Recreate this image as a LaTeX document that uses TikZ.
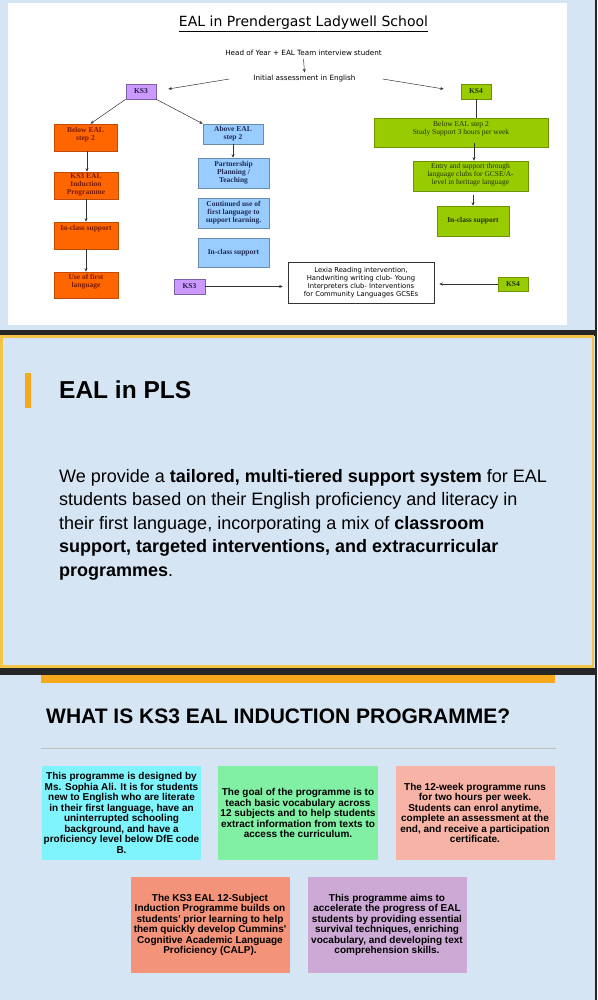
\documentclass[tikz,border=0pt]{standalone}
\usepackage{fontspec}
\usepackage{graphicx}
\setmainfont{Liberation Serif}
\newfontfamily\comic{DejaVu Sans}
\newfontfamily\arial{Liberation Sans}
\usetikzlibrary{arrows.meta}
\definecolor{bgblue}{HTML}{D6E5F4}
\definecolor{orF}{HTML}{FF6600}
\definecolor{orB}{HTML}{C04A00}
\definecolor{orT}{HTML}{7A1A00}
\definecolor{blF}{HTML}{99CCFF}
\definecolor{blB}{HTML}{6A8AB0}
\definecolor{blT}{HTML}{1F2A55}
\definecolor{grF}{HTML}{99CC00}
\definecolor{grB}{HTML}{6F9200}
\definecolor{grT}{HTML}{223300}
\definecolor{puF}{HTML}{CC99FF}
\definecolor{puB}{HTML}{7F5FA8}
\definecolor{puT}{HTML}{2A1A4A}
\definecolor{yelB}{HTML}{F3C547}
\definecolor{orbar}{HTML}{F5A81C}
\definecolor{darkband}{HTML}{262626}
\definecolor{cyanF}{HTML}{80F4FC}
\definecolor{mintF}{HTML}{82F0A4}
\definecolor{salF}{HTML}{F6B3A6}
\definecolor{coralF}{HTML}{F2937A}
\definecolor{lavF}{HTML}{CDAAD6}
\definecolor{lineG}{HTML}{333333}
\tikzset{
  flow/.style={line width=0.6pt, inner sep=0pt},
  orbox/.style={flow, draw=orB, fill=orF, minimum width=64pt, minimum height=27pt},
  blbox/.style={flow, draw=blB, fill=blF, minimum width=71pt, minimum height=30pt, text=blT, font=\fontsize{7.5}{8}\selectfont\bfseries, align=center},
  grbox/.style={flow, draw=grB, fill=grF, text=grT, font=\fontsize{7.5}{8}\selectfont, align=center},
  pubox/.style={flow, draw=puB, fill=puF, text=puT, minimum width=30pt, minimum height=15pt, font=\fontsize{7.5}{8}\selectfont\bfseries},
  ortxt/.style={inner sep=0pt, text=orT, font=\fontsize{7.5}{8}\selectfont\bfseries, align=center, anchor=north},
  comictxt/.style={inner sep=0pt, font=\comic\fontsize{7.2}{8}\selectfont, align=center},
  arr/.style={draw=lineG, line width=0.5pt, -{Stealth[length=3.5pt,width=3pt]}},
  plain/.style={draw=lineG, line width=0.5pt},
  infobox/.style={inner sep=2pt, minimum width=159pt, minimum height=94pt, align=center,
     font=\arial\bfseries\fontsize{10}{10.5}\selectfont}
}
\begin{document}
\begin{tikzpicture}[x=1pt,y=-1pt]
\useasboundingbox (0,0) rectangle (597,1000);
% backgrounds
\fill[bgblue] (0,0) rectangle (597,1000);
\fill[white] (8,3) rectangle (567,325);
\fill[darkband] (0,329.5) rectangle (597,335.5);
\draw[yelB, line width=2.5pt, fill=bgblue] (1.25,336.5) rectangle (593,666.5);
\fill[darkband] (0,668) rectangle (597,675);
\fill[orbar] (41,675) rectangle (555,683);
\fill[darkband] (594.5,0) rectangle (597,1000);

% ---------- flowchart ----------
\node[inner sep=0pt, font=\comic\fontsize{14}{16}\selectfont] (title) at (303.5,24) {\underline{EAL in Prendergast Ladywell School}};
\node[comictxt] (head) at (303.5,53) {Head of Year + EAL Team interview student};
\node[comictxt] (init) at (304.5,79) {Initial assessment in English};

\node[pubox] (ks3a) at (141,91.5) {KS3};
\node[grbox, minimum width=30pt, minimum height=15pt, font=\fontsize{7.5}{8}\selectfont\bfseries] (ks4a) at (476,91.5) {KS4};

\node[orbox, minimum width=63pt] (belowL) at (85.5,137.5) {};
\node[ortxt] (belowLt) at ([yshift=-3pt]belowL.north) {Below EAL\\step 2};
\node[orbox] (ks3ind) at (86,185.5) {};
\node[ortxt] (ks3indt) at ([yshift=-1.5pt]ks3ind.north) {KS3 EAL\\Induction\\Programme};
\node[orbox] (inclassL) at (86,235.5) {};
\node[ortxt] (inclassLt) at ([yshift=-3pt]inclassL.north) {In-class support};
\node[orbox, minimum height=26pt] (usefirst) at (86,285) {};
\node[ortxt] (usefirstt) at ([yshift=-2pt]usefirst.north) {Use of first\\language};

\node[blbox, minimum width=60pt, minimum height=20pt] (aboveR) at (233,134) {Above EAL\\step 2};
\node[blbox] (partner) at (233.5,173) {Partnership\\Planning /\\Teaching};
\node[blbox] (contuse) at (233.5,213) {Continued use of\\first language to\\support learning.};
\node[blbox, minimum height=29pt] (inclassB) at (233.5,252.5) {In-class support};

\node[grbox, minimum width=174pt, minimum height=29pt] (belowK4) at (461,132.5) {};
\node[inner sep=0pt, text=grT, font=\fontsize{7.5}{8}\selectfont, align=center, anchor=north] (belowK4t) at ([yshift=-3pt]belowK4.north) {Below EAL step 2\\Study Support 3 hours per week};
\node[grbox, minimum width=115pt, minimum height=30pt] (entry) at (470.5,176) {};
\node[inner sep=0pt, text=grT, font=\fontsize{7.5}{8}\selectfont, align=center, anchor=north] (entryt) at ([yshift=-2pt]entry.north) {Entry and support through\\language clubs for GCSE/A-\\level in heritage language};
\node[grbox, minimum width=72pt, minimum height=30pt, font=\fontsize{7.5}{8}\selectfont\bfseries] (inclassG) at (473,221) {In-class support};

\node[pubox, minimum width=31pt] (ks3b) at (189.5,286.5) {KS3};
\node[draw=lineG, line width=0.6pt, fill=white, minimum width=146pt, minimum height=41pt, inner sep=0pt, font=\comic\fontsize{6.8}{8}\selectfont, align=center] (lexia) at (361,282.5) {Lexia Reading intervention,\\Handwriting writing club- Young\\Interpreters club- Interventions\\for Community Languages GCSEs};
\node[grbox, minimum width=30pt, minimum height=14pt, font=\fontsize{7.5}{8}\selectfont\bfseries] (ks4b) at (513,284) {KS4};

% connectors
\draw[arr] ([yshift=-3pt]head.south) -- ([yshift=3pt]init.north);
\draw[arr] ([xshift=-24pt]init.west) -- ([xshift=12pt,yshift=2.5pt]ks3a.east);
\draw[arr] ([xshift=27pt]init.east) -- ([xshift=-17pt,yshift=2.5pt]ks4a.west);
\draw[arr] (ks3a.south west) -- ([xshift=5pt]belowL.north);
\draw[arr] (ks3a.south east) -- (aboveR.north west);
\draw[arr] ([xshift=1.5pt]belowL.south) -- ([xshift=1pt]ks3ind.north);
\draw[arr] (ks3ind.south) -- (inclassL.north);
\draw[arr] (inclassL.south) -- (usefirst.north);
\draw[arr] (aboveR.south) -- (partner.north -| aboveR.south);
\draw[plain] (ks4a.south) -- (belowK4.north -| ks4a.south);
\draw[arr] ([xshift=13pt,yshift=4pt]belowK4.south) -- ([xshift=3.5pt]entry.north);
\draw[arr] ([xshift=2.5pt,yshift=-4pt]entry.south) -- (inclassG.north);
\draw[arr, shorten >=5pt] (ks3b.east) -- (lexia.west |- ks3b.east);
\draw[arr, shorten >=5pt] (ks4b.west) -- (lexia.east |- ks4b.west);

% ---------- panel 2 ----------
\fill[orbar] (24.8,373) rectangle (30.5,408);
\node[anchor=base west, inner sep=0pt, font=\arial\bfseries\fontsize{24.5}{28}\selectfont] (pls) at (59,398) {EAL in PLS};
\node[anchor=north west, inner sep=0pt, align=left, font=\arial\fontsize{18}{23.5}\selectfont] (para) at (59,469) {We provide a \textbf{tailored, multi-tiered support system} for EAL\\students based on their English proficiency and literacy in\\their first language, incorporating a mix of \textbf{classroom}\\\textbf{support, targeted interventions, and extracurricular}\\\textbf{programmes}.};

% ---------- panel 3 ----------
\node[anchor=base west, inner sep=0pt, font=\arial\bfseries\fontsize{21}{24}\selectfont] (h3) at (46,723) {WHAT IS KS3 EAL INDUCTION PROGRAMME?};
\draw[color=black!25, line width=0.6pt] (41,748) -- (556,748);

\node[infobox, fill=cyanF] (b1) at (121.5,813) {This programme is designed by\\Ms. Sophia Ali. It is for students\\new to English who are literate\\in their first language, have an\\uninterrupted schooling\\background, and have a\\proficiency level below DfE code\\B.};
\node[infobox, fill=mintF] (b2) at (298,813) {The goal of the programme is to\\teach basic vocabulary across\\12 subjects and to help students\\extract information from texts to\\access the curriculum.};
\node[infobox, fill=salF] (b3) at (475,813) {The 12-week programme runs\\for two hours per week.\\Students can enrol anytime,\\complete an assessment at the\\end, and receive a participation\\certificate.};
\node[infobox, fill=coralF, minimum height=96pt] (b4) at (210,925) {The KS3 EAL 12-Subject\\Induction Programme builds on\\students' prior learning to help\\them quickly develop Cummins'\\Cognitive Academic Language\\Proficiency (CALP).};
\node[infobox, fill=lavF, minimum height=96pt] (b5) at (387,925) {This programme aims to\\accelerate the progress of EAL\\students by providing essential\\survival techniques, enriching\\vocabulary, and developing text\\comprehension skills.};
\end{tikzpicture}
\end{document}
